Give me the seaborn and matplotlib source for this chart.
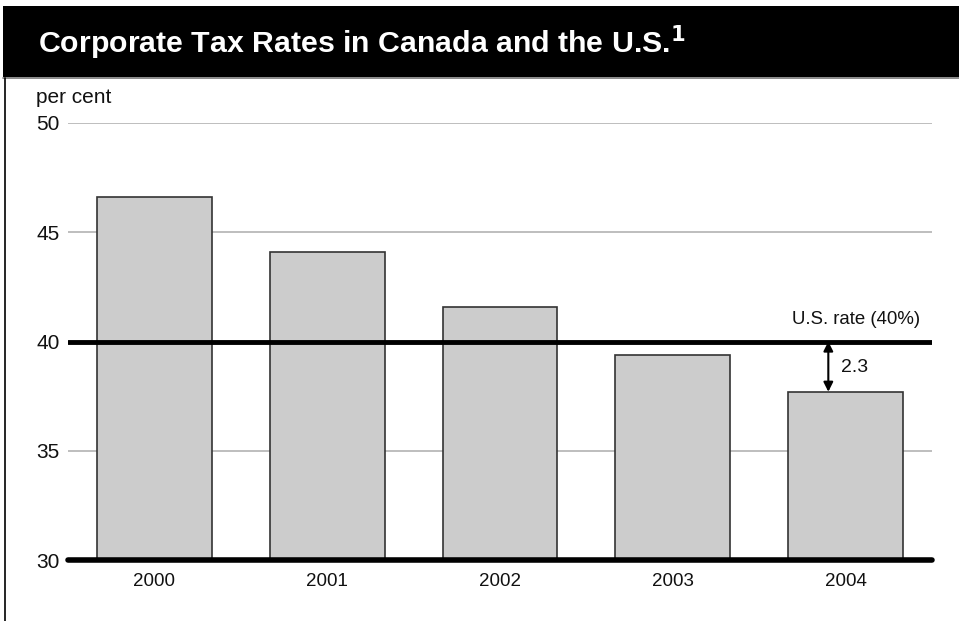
import matplotlib
matplotlib.use("Agg")
import matplotlib.pyplot as plt
import seaborn as sns
import pandas as pd
from matplotlib.patches import Rectangle

years = ["2000", "2001", "2002", "2003", "2004"]
canada_rates = [46.6, 44.1, 41.6, 39.4, 37.7]
us_rate = 40.0
gap_label = "2.3"
yticks = [30, 35, 40, 45, 50]

sns.set_theme(style="white")
plt.rcParams['font.family'] = ['Liberation Sans', 'DejaVu Sans']

W, H = 959, 621
fig = plt.figure(figsize=(W / 100, H / 100), dpi=100)
fig.patch.set_facecolor("white")

# Title bar
fig.patches.append(Rectangle((3 / W, 1 - 77 / H), 1, 71 / H, transform=fig.transFigure,
                             facecolor="black", edgecolor="none", zorder=0))
fig.add_artist(plt.Line2D([3 / W, 1], [1 - 78 / H, 1 - 78 / H], transform=fig.transFigure,
                          color="#777777", lw=1.2))
fig.add_artist(plt.Line2D([4.5 / W, 4.5 / W], [0, 1 - 78 / H], transform=fig.transFigure,
                          color="black", lw=1.2))
fig.text(38 / W, 1 - 53 / H, "Corporate Tax Rates in Canada and the U.S.$^{\\mathbf{1}}$",
         color="white", fontsize=21.8, fontweight="bold", va="baseline", ha="left")

ax = fig.add_axes([68 / W, 1 - 560 / H, 864 / W, (560 - 123) / H])
df = pd.DataFrame({"year": years, "rate": canada_rates})

for y in [35, 45, 50]:
    ax.axhline(y, color="#b3b3b3", lw=1.2, zorder=0)

sns.barplot(data=df, x="year", y="rate", color="#cccccc", width=0.665,
            edgecolor="#333333", linewidth=1.2, saturation=1, ax=ax, zorder=2)

ax.axhline(us_rate, color="black", lw=3.5, zorder=3)
ax.axhline(30, color="black", lw=4, zorder=3, clip_on=False)

ax.set_ylim(30, 50)
ax.set_xlim(-0.5, 4.5)
ax.set_yticks(yticks)
ax.set_yticklabels([str(t) for t in yticks], fontsize=15, ha="left", color="#111111")
ax.tick_params(axis="y", length=0, pad=23)
ax.tick_params(axis="x", length=0, pad=9, labelsize=13.5, labelcolor="#111111")
ax.set_xlabel("")
ax.set_ylabel("")
for s in ax.spines.values():
    s.set_visible(False)
ax.patch.set_alpha(0)

fig.text(36 / W, 1 - 103 / H, "per cent", fontsize=15, ha="left", va="baseline",
         color="#111111")

ax.text(4.43, us_rate + 0.8, "U.S. rate (40%)", fontsize=13.4, ha="right", va="baseline",
        color="#111111")
ax.annotate("", xy=(3.9, us_rate), xytext=(3.9, canada_rates[-1]),
            arrowprops=dict(arrowstyle="<|-|>", color="black", lw=1.5,
                            shrinkA=0, shrinkB=0, mutation_scale=14))
ax.text(3.975, 38.8, gap_label, fontsize=14, ha="left", va="center", color="#111111")

fig.savefig("out.png", dpi=100)
